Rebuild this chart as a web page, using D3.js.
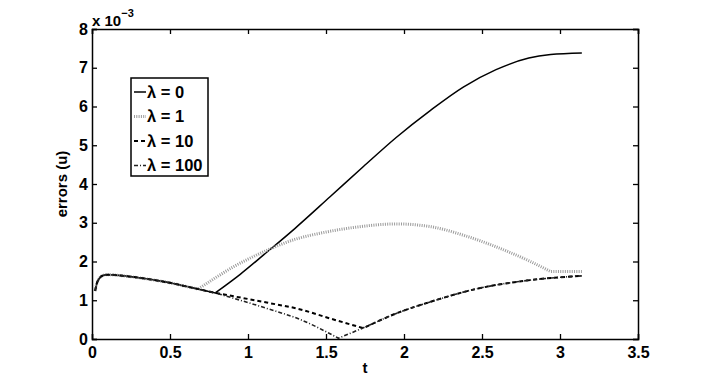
<!doctype html>
<html lang="en">
<head>
    <meta charset="UTF-8">
    <title>errors (u)</title>
    <script src="https://cdnjs.cloudflare.com/ajax/libs/d3/7.8.5/d3.min.js"></script>
    <style>
        html, body {
            margin: 0;
            padding: 0;
            background: #ffffff;
            overflow: hidden;
        }
        text {
            font-family: "Liberation Sans", Arial, Helvetica, sans-serif;
            font-weight: bold;
        }
    </style>
</head>
<body>
<svg id="chart" width="706" height="382"></svg>
<script>
    // values (errors in units of 1e-3)
    const tLam0   = [0.02, 0.03, 0.05, 0.07, 0.1, 0.2, 0.3, 0.4, 0.5, 0.6, 0.69, 0.79, 0.95, 1.1, 1.3, 1.526, 1.74, 1.95, 2.17, 2.38, 2.59, 2.8, 2.94, 3.14];
    const errLam0 = [1.24, 1.42, 1.58, 1.64, 1.66, 1.63, 1.58, 1.52, 1.45, 1.36, 1.28, 1.19, 1.67, 2.17, 2.85, 3.67, 4.45, 5.2, 5.9, 6.5, 6.95, 7.25, 7.34, 7.38];
    const kinkLam0 = [0.79];

    const tLam1   = [0.02, 0.03, 0.05, 0.07, 0.1, 0.2, 0.3, 0.4, 0.5, 0.6, 0.68, 0.8, 0.9, 1.0, 1.1, 1.3, 1.5, 1.7, 1.95, 2.17, 2.38, 2.59, 2.81, 2.94, 3.14];
    const errLam1 = [1.24, 1.42, 1.58, 1.64, 1.66, 1.63, 1.58, 1.52, 1.45, 1.36, 1.29, 1.6, 1.85, 2.06, 2.25, 2.57, 2.76, 2.89, 2.97, 2.9, 2.68, 2.38, 2.0, 1.74, 1.74];
    const kinkLam1 = [0.68, 2.94];

    const tLam10   = [0.02, 0.03, 0.05, 0.07, 0.1, 0.2, 0.3, 0.4, 0.5, 0.6, 0.69, 0.79, 1.12, 1.33, 1.526, 1.74, 1.95, 2.17, 2.45, 2.81, 3.14];
    const errLam10 = [1.24, 1.42, 1.58, 1.64, 1.66, 1.63, 1.58, 1.52, 1.45, 1.36, 1.28, 1.19, 0.94, 0.77, 0.53, 0.28, 0.66, 0.96, 1.28, 1.52, 1.63];
    const kinkLam10 = [0.79, 1.74];

    const tLam100   = [0.02, 0.03, 0.05, 0.07, 0.1, 0.2, 0.3, 0.4, 0.5, 0.6, 0.69, 0.79, 1.12, 1.33, 1.58, 1.74, 1.95, 2.17, 2.45, 2.81, 3.14];
    const errLam100 = [1.24, 1.42, 1.58, 1.64, 1.66, 1.63, 1.58, 1.52, 1.45, 1.36, 1.28, 1.19, 0.79, 0.51, 0.02, 0.29, 0.66, 0.96, 1.28, 1.52, 1.63];
    const kinkLam100 = [0.79, 1.58];

    const xTicks = [0, 0.5, 1, 1.5, 2, 2.5, 3, 3.5];
    const yTicks = [0, 1, 2, 3, 4, 5, 6, 7, 8];
    const legendLabels = ["λ = 0", "λ = 1", "λ = 10", "λ = 100"];

    const series = [
        {t: tLam0, v: errLam0, kinks: kinkLam0, stroke: "#000", width: 1.5, dash: null},
        {t: tLam1, v: errLam1, kinks: kinkLam1, stroke: "#9a9a9a", width: 3, dash: "1,1.3"},
        {t: tLam10, v: errLam10, kinks: kinkLam10, stroke: "#000", width: 2, dash: "4,3"},
        {t: tLam100, v: errLam100, kinks: kinkLam100, stroke: "#222", width: 1.6, dash: "4,2,1,2"}
    ];

    const svg = d3.select("#chart");
    const margin = {top: 29, right: 68, bottom: 43, left: 92};
    const width = 706 - margin.left - margin.right;
    const height = 382 - margin.top - margin.bottom;

    const x = d3.scaleLinear().domain([0, 3.5]).range([0, width]);
    const y = d3.scaleLinear().domain([0, 8]).range([height, 0]);

    const g = svg.append("g")
        .attr("transform", "translate(" + margin.left + "," + margin.top + ")");

    // curves: smooth pieces, sharp corners where the method switches
    const line = d3.line()
        .x(d => x(d[0]))
        .y(d => y(d[1]))
        .curve(d3.curveMonotoneX);

    function piecewise(s) {
        const pts = s.t.map((t, i) => [t, s.v[i]]);
        const pieces = [];
        let cur = [];
        pts.forEach(p => {
            cur.push(p);
            if (s.kinks.includes(p[0])) {
                pieces.push(cur);
                cur = [p];
            }
        });
        pieces.push(cur);
        return pieces.map(pc => line(pc).replace(/^M[^A-Za-z]*/, m => pc === pieces[0] ? m : "L" + m.slice(1))).join("");
    }

    series.forEach(s => {
        g.append("path")
            .attr("fill", "none")
            .attr("stroke", s.stroke)
            .attr("stroke-width", s.width)
            .attr("stroke-dasharray", s.dash)
            .attr("d", piecewise(s));
    });

    // axes, ticks pointing inside on all four sides
    const fmt = d => d3.format("")(d);
    g.append("g")
        .attr("class", "axis axis--x")
        .attr("transform", "translate(0," + height + ")")
        .call(d3.axisBottom(x).tickValues(xTicks).tickFormat(fmt).tickSize(-5).tickPadding(8));
    g.append("g")
        .attr("class", "axis axis--x2")
        .call(d3.axisTop(x).tickValues(xTicks).tickFormat("").tickSize(-5));
    g.append("g")
        .attr("class", "axis axis--y")
        .call(d3.axisLeft(y).tickValues(yTicks).tickFormat(fmt).tickSize(-5).tickPadding(4));
    g.append("g")
        .attr("class", "axis axis--y2")
        .attr("transform", "translate(" + width + ",0)")
        .call(d3.axisRight(y).tickValues(yTicks).tickFormat("").tickSize(-5));

    g.selectAll(".axis path").attr("stroke", "#000").attr("stroke-width", 1.5);
    g.selectAll(".axis line").attr("stroke", "#000").attr("stroke-width", 1.3);
    g.selectAll(".axis text")
        .attr("fill", "#000")
        .style("font-size", "16px")
        .style("font-family", "'Liberation Sans', Arial, sans-serif")
        .style("font-weight", "bold");

    // exponent
    const expo = g.append("text")
        .attr("x", 0)
        .attr("y", -3)
        .style("font-size", "15px");
    expo.append("tspan").text("x 10");
    expo.append("tspan").attr("dy", -9).style("font-size", "11px").text("−3");

    // axis labels
    g.append("text")
        .attr("transform", "translate(-25," + height / 2 + ") rotate(-90)")
        .attr("text-anchor", "middle")
        .style("font-size", "15px")
        .text("errors (u)");
    g.append("text")
        .attr("x", width / 2)
        .attr("y", height + 34)
        .attr("text-anchor", "middle")
        .style("font-size", "15px")
        .text("t");

    // legend
    const legend = g.append("g")
        .attr("transform", "translate(" + (131 - margin.left) + "," + (78 - margin.top) + ")");
    legend.append("rect")
        .attr("width", 77)
        .attr("height", 98)
        .attr("fill", "#fff")
        .attr("stroke", "#000")
        .attr("stroke-width", 1.5);
    legendLabels.forEach((lab, i) => {
        const row = legend.append("g").attr("transform", "translate(0," + (14 + i * 24.5) + ")");
        row.append("line")
            .attr("x1", 3).attr("x2", 15)
            .attr("stroke", series[i].stroke)
            .attr("stroke-width", series[i].width)
            .attr("stroke-dasharray", series[i].dash);
        row.append("text")
            .attr("x", 16)
            .attr("dy", "0.36em")
            .style("font-size", "16.5px")
            .text(lab);
    });
</script>
</body>
</html>
